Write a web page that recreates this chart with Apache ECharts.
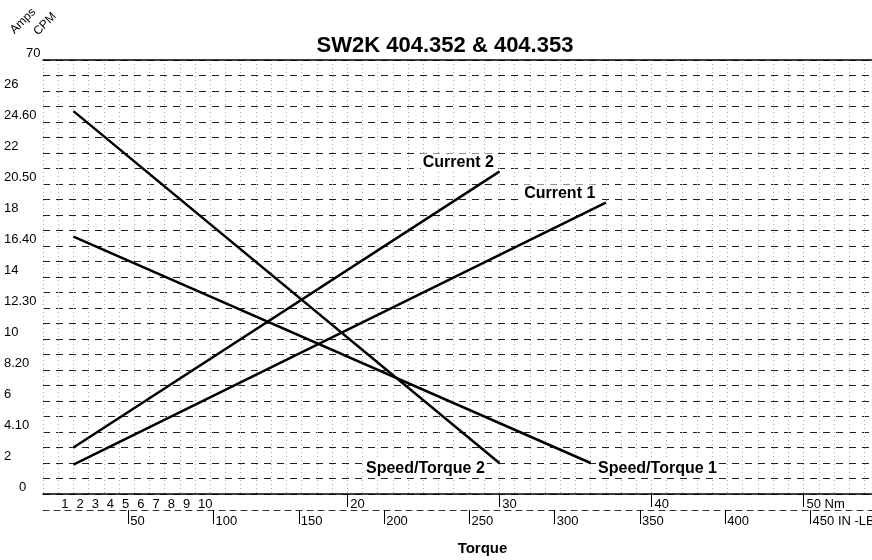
<!DOCTYPE html>
<html>
<head>
<meta charset="utf-8">
<title>SW2K 404.352 & 404.353</title>
<script src="https://cdn.jsdelivr.net/npm/echarts@6/dist/echarts.min.js"></script>
<style>html,body{margin:0;padding:0;background:#fff;}</style>
</head>
<body>
<div id="chart" style="width:872px;height:560px;"></div>
<script>
// curves: torque (Nm) -> value on the left scale
var st2Torque = [2, 30];
var st2Value = [24.7, 2.0];
var st1Torque = [2, 36];
var st1Value = [16.6, 2.0];
var cur2Torque = [2, 30];
var cur2Value = [3.0, 20.8];
var cur1Torque = [2, 37];
var cur1Value = [1.9, 18.8];

// left scale (amps / cpm share one column)
var yTickValues = [0, 2, 4, 6, 8, 10, 12, 14, 16, 18, 20, 22, 24, 26, 28];
var yTickLabels = ['0', '2', '4.10', '6', '8.20', '10', '12.30', '14', '16.40', '18', '20.50', '22', '24.60', '26', '70'];

// bottom scales
var nmTickValues = [1, 2, 3, 4, 5, 6, 7, 8, 9, 10, 20, 30, 40, 50];
var nmTickLabels = ['1', '2', '3', '4', '5', '6', '7', '8', '9', '10', '20', '30', '40', '50 Nm'];
var nmMarkValues = [20, 30, 40, 50];
var inlbTickValues = [50, 100, 150, 200, 250, 300, 350, 400, 450];
var inlbTickLabels = ['50', '100', '150', '200', '250', '300', '350', '400', '450 IN -LB'];

var FONT = 'Liberation Sans';
var chart = echarts.init(document.getElementById('chart'));

function pts(xs, ys) {
    return xs.map(function (x, i) { return [x, ys[i]]; });
}
function lookup(vals, labels) {
    return function (v) {
        var i = vals.indexOf(Math.round(v * 100) / 100);
        return i < 0 ? '' : labels[i];
    };
}

var curves = [
    {name: 'Speed/Torque 2', data: pts(st2Torque, st2Value), pos: 'left', off: [-7, 6]},
    {name: 'Speed/Torque 1', data: pts(st1Torque, st1Value), pos: 'right', off: [0, 6]},
    {name: 'Current 2', data: pts(cur2Torque, cur2Value), pos: 'left', off: [2, -9]},
    {name: 'Current 1', data: pts(cur1Torque, cur1Value), pos: 'left', off: [-3, -9]}
];

var series = [];
curves.forEach(function (c) {
    series.push({
        name: c.name,
        type: 'line',
        data: c.data,
        symbol: 'none',
        lineStyle: {color: '#000', width: 2.5},
        silent: true,
        z: 5
    });
    // name written next to the end of each curve
    series.push({
        name: c.name + ' label',
        type: 'scatter',
        data: [c.data[c.data.length - 1]],
        symbolSize: 1,
        itemStyle: {color: '#000', opacity: 1},
        silent: true,
        label: {
            show: true,
            position: c.pos,
            offset: c.off,
            formatter: c.name,
            color: '#000',
            opacity: 1,
            textBorderWidth: 0,
            backgroundColor: '#fff',
            padding: [1, 2],
            fontFamily: FONT,
            fontWeight: 'bold',
            fontSize: 16
        },
        z: 6
    });
});

var yFmt = lookup(yTickValues, yTickLabels);

chart.setOption({
    animation: false,
    title: {
        text: 'SW2K 404.352 & 404.353',
        left: 440,
        top: 30,
        textAlign: 'center',
        textStyle: {fontFamily: FONT, fontWeight: 'bold', fontSize: 22, color: '#000'}
    },
    grid: {left: 43, right: 0, top: 60, bottom: 66, outerBoundsMode: 'none', containLabel: false},
    graphic: [
        {type: 'text', x: 23, y: 21, rotation: Math.PI / 4,
         style: {text: 'Amps', font: '12px "Liberation Sans"', fill: '#000', textAlign: 'center', textVerticalAlign: 'middle'}},
        {type: 'text', x: 45, y: 24, rotation: Math.PI / 4,
         style: {text: 'CPM', font: '12px "Liberation Sans"', fill: '#000', textAlign: 'center', textVerticalAlign: 'middle'}}
    ],
    xAxis: [
        {
            type: 'value', min: 0, max: 54.5, interval: 1, position: 'bottom',
            axisLine: {show: true, onZero: false, lineStyle: {color: '#000', width: 1.5}},
            axisTick: {show: true, customValues: nmMarkValues, length: 13, lineStyle: {color: '#000'}},
            axisLabel: {
                customValues: nmTickValues, formatter: lookup(nmTickValues, nmTickLabels),
                align: 'left', margin: 4, padding: [0, 0, 0, 3],
                color: '#000', fontFamily: FONT, fontSize: 13
            },
            splitLine: {show: false}
        },
        {
            type: 'value', min: 0, max: 486, interval: 50, position: 'bottom', offset: 16,
            axisLine: {show: true, onZero: false, lineStyle: {color: '#333', type: [6, 5], width: 1}},
            axisTick: {show: true, customValues: inlbTickValues, length: 14, lineStyle: {color: '#000'}},
            axisLabel: {
                customValues: inlbTickValues, formatter: lookup(inlbTickValues, inlbTickLabels),
                align: 'left', margin: 5, padding: [0, 0, 0, 2],
                color: '#000', fontFamily: FONT, fontSize: 13
            },
            splitLine: {show: false},
            name: 'Torque', nameLocation: 'middle', nameGap: 31,
            nameTextStyle: {fontFamily: FONT, fontWeight: 'bold', fontSize: 15, color: '#000', padding: [0, 0, 0, 50]}
        },
        {
            type: 'value', min: 0, max: 54.5, position: 'top',
            axisLine: {show: true, onZero: false, lineStyle: {color: '#000', width: 1.5}},
            axisTick: {show: false}, axisLabel: {show: false}, splitLine: {show: false}
        },
        {
            // vertical dotted grid, one line per Nm
            type: 'value', min: 0, max: 54.5, interval: 1, position: 'top', show: true,
            axisLine: {show: false}, axisTick: {show: false}, axisLabel: {show: false},
            splitLine: {show: true, lineStyle: {color: '#aaa', type: [1, 3], width: 1}}
        }
    ],
    yAxis: {
        type: 'value', min: 0, max: 28, interval: 1,
        axisLine: {show: false}, axisTick: {show: false},
        axisLabel: {
            customValues: yTickValues,
            formatter: function (v) {
                var t = yFmt(v);
                if (v === 28) return '{top|' + t + '}';
                if (v === 0) return '{zero|' + t + '}';
                return t;
            },
            rich: {
                top: {padding: [0, 0, 0, 22], fontFamily: FONT, fontSize: 13, color: '#000'},
                zero: {padding: [0, 0, 0, 15], fontFamily: FONT, fontSize: 13, color: '#000'}
            },
            align: 'left', verticalAlign: 'bottom', margin: 39,
            color: '#000', fontFamily: FONT, fontSize: 13
        },
        splitLine: {show: true, lineStyle: {color: '#222', type: [7, 6], width: 1}}
    },
    series: series
});
</script>
</body>
</html>
